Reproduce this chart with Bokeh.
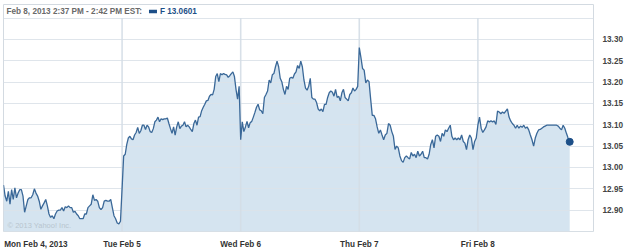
import numpy as np
from bokeh.plotting import figure
from bokeh.models import Range1d, FixedTicker, Label, PrintfTickFormatter
from bokeh.embed import file_html
from bokeh.resources import INLINE

# ---- data (F, 5-day intraday) ----
day_labels = ["Mon Feb 4, 2013", "Tue Feb 5", "Wed Feb 6", "Thu Feb 7", "Fri Feb 8"]

mon = [12.959, 12.933, 12.921, 12.944, 12.914, 12.948, 12.925, 12.952, 12.929, 12.940,
       12.948, 12.948, 12.933, 12.895, 12.910, 12.925, 12.929, 12.929, 12.936, 12.950,
       12.940, 12.933, 12.921, 12.902, 12.910, 12.917, 12.925, 12.910, 12.891, 12.883,
       12.887, 12.880, 12.891, 12.898, 12.900, 12.900, 12.906, 12.898, 12.908, 12.906,
       12.910, 12.906, 12.906, 12.895, 12.897, 12.891, 12.887, 12.880, 12.880, 12.880,
       12.891, 12.891, 12.906, 12.910, 12.914, 12.936, 12.923, 12.925, 12.921, 12.906,
       12.901, 12.906, 12.921, 12.923, 12.921, 12.921, 12.925, 12.906, 12.887, 12.880,
       12.870, 12.868, 12.874]

tue = [12.951, 13.027, 13.031, 13.054, 13.069, 13.073, 13.067, 13.065, 13.076, 13.082,
       13.094, 13.080, 13.086, 13.099, 13.099, 13.089, 13.099, 13.095, 13.084, 13.082,
       13.091, 13.107, 13.111, 13.118, 13.107, 13.114, 13.112, 13.114, 13.114, 13.116,
       13.103, 13.091, 13.080, 13.095, 13.076, 13.095, 13.107, 13.091, 13.097, 13.099,
       13.107, 13.095, 13.099, 13.095, 13.089, 13.084, 13.103, 13.111, 13.099, 13.118,
       13.119, 13.133, 13.141, 13.148, 13.156, 13.157, 13.167, 13.171, 13.170, 13.183,
       13.213, 13.220, 13.201, 13.220, 13.217, 13.220, 13.218, 13.217, 13.211, 13.215,
       13.220, 13.224, 13.213, 13.183, 13.160, 13.190]

wed = [13.065, 13.107, 13.084, 13.095, 13.108, 13.093, 13.105, 13.108, 13.118, 13.129,
       13.141, 13.148, 13.135, 13.133, 13.126, 13.164, 13.171, 13.179, 13.205, 13.198,
       13.217, 13.220, 13.236, 13.249, 13.236, 13.209, 13.201, 13.183, 13.171, 13.190,
       13.183, 13.209, 13.211, 13.209, 13.219, 13.224, 13.239, 13.232, 13.249, 13.236,
       13.205, 13.186, 13.181, 13.190, 13.209, 13.164, 13.160, 13.160, 13.152, 13.137,
       13.133, 13.137, 13.131, 13.148, 13.148, 13.164, 13.175, 13.179, 13.176, 13.167,
       13.183, 13.164, 13.167, 13.156, 13.175, 13.183, 13.164, 13.160, 13.156, 13.171,
       13.175, 13.186, 13.179, 13.183, 13.190]

thu = [13.281, 13.258, 13.232, 13.228, 13.198, 13.205, 13.201, 13.160, 13.122, 13.122,
       13.114, 13.095, 13.080, 13.088, 13.076, 13.065, 13.076, 13.080, 13.103, 13.099,
       13.084, 13.073, 13.042, 13.050, 13.046, 13.027, 13.016, 13.012, 13.023, 13.027,
       13.023, 13.020, 13.035, 13.027, 13.031, 13.023, 13.038, 13.027, 13.031, 13.038,
       13.023, 13.023, 13.020, 13.031, 13.054, 13.065, 13.046, 13.073, 13.076, 13.073,
       13.061, 13.080, 13.073, 13.088, 13.084, 13.092, 13.099, 13.073, 13.065, 13.069,
       13.065, 13.069, 13.065, 13.076, 13.061, 13.057, 13.042, 13.065, 13.076, 13.069,
       13.042, 13.061, 13.069]

fri = [13.099, 13.118, 13.092, 13.082, 13.088, 13.095, 13.109, 13.107, 13.109, 13.107,
       13.109, 13.101, 13.132, 13.130, 13.126, 13.130, 13.127, 13.132, 13.137, 13.118,
       13.109, 13.103, 13.099, 13.092, 13.099, 13.092, 13.097, 13.094, 13.099, 13.092,
       13.095, 13.088, 13.076, 13.065, 13.050, 13.069, 13.080, 13.088, 13.089, 13.092,
       13.095, 13.097, 13.099, 13.099, 13.099, 13.099, 13.099, 13.099, 13.099, 13.097,
       13.092, 13.088, 13.099, 13.092, 13.080, 13.069, 13.0601]

session_minutes = 390          # 9:30 - 16:00
fri_last_minute = 302          # last Friday quote as placed on the chart's time axis
y_ticks = [12.90, 12.95, 13.00, 13.05, 13.10, 13.15, 13.20, 13.25, 13.30]
grid_levels = [12.85] + y_ticks + [13.35]
header_text = "Feb 8, 2013 2:37 PM - 2:42 PM EST:"
legend_text = "F 13.0601"
watermark = "\u00a9 2013 Yahoo! Inc."

# ---- build the time axis (trading-day units) ----
xs, ys = [], []
for d, day in enumerate([mon, tue, wed, thu]):
    n = len(day)
    xs.extend(d + np.arange(n) / n)
    ys.extend(day)
n = len(fri)
xs.extend(4 + np.arange(n) / (n - 1) * fri_last_minute / session_minutes)
ys.extend(fri)
xs = np.array(xs)
ys = np.array(ys)

FONT = "Liberation Sans"
LINE = "#3a6898"
FILL = "#d5e4f0"
GRID = "#dbe2e9"
DARK = "#1d4f88"

y_lo, y_hi = 12.85, 13.3818
p = figure(width=625, height=251, output_backend="svg", toolbar_location=None,
           x_range=Range1d(0, 4.975), y_range=Range1d(y_lo, y_hi),
           y_axis_location="right",
           min_border_left=3, min_border_right=30, min_border_top=4, min_border_bottom=13)
p.background_fill_color = "white"
p.border_fill_color = "white"
p.outline_line_color = "#d3dae1"
p.xgrid.visible = False
p.ygrid.visible = False

# area + grid + line
p.varea(x=xs, y1=y_lo, y2=ys, fill_color=FILL, fill_alpha=1.0)
p.hspan(y=grid_levels, line_color=GRID, line_width=1, line_alpha=0.9)
p.segment(x0=[1, 2, 3, 4], y0=[12.85] * 4, x1=[1, 2, 3, 4], y1=[13.35] * 4,
          line_color="#d4dde6", line_width=1.6, line_alpha=0.9)
p.line(xs, ys, line_color=LINE, line_width=1.3)
p.scatter([xs[-1]], [ys[-1]], size=7, fill_color=DARK, line_color=DARK)

# right axis
ya = p.yaxis[0]
ya.ticker = FixedTicker(ticks=y_ticks)
ya.formatter = PrintfTickFormatter(format="%.2f")
ya.axis_line_color = None
ya.major_tick_line_color = None
ya.minor_tick_line_color = None
ya.major_label_standoff = 3
ya.major_label_text_font = FONT
ya.major_label_text_font_size = "8.2px"
ya.major_label_text_font_style = "bold"
ya.major_label_text_color = "#444444"

# bottom axis (day labels)
xa = p.xaxis[0]
mon_pos = 0.273
xa.ticker = FixedTicker(ticks=[mon_pos, 1, 2, 3, 4])
xa.major_label_overrides = {mon_pos: day_labels[0], 1: day_labels[1], 2: day_labels[2],
                            3: day_labels[3], 4: day_labels[4]}
xa.axis_line_color = None
xa.major_tick_line_color = None
xa.minor_tick_line_color = None
xa.major_label_standoff = 2
xa.major_label_text_font = FONT
xa.major_label_text_font_size = "8.2px"
xa.major_label_text_font_style = "bold"
xa.major_label_text_color = "#333333"

# header: timestamp, legend swatch and legend text
header_y = 13.3655
p.add_layout(Label(x=0.025, y=header_y, text=header_text, text_font=FONT,
                   text_font_size="8.2px", text_font_style="bold", text_color="#6a6a6a",
                   text_baseline="middle", text_align="left"))
p.rect(x=[1.2605], y=[header_y], width=8, height=3.5, width_units="screen",
       height_units="screen", fill_color=DARK, line_color=None)
p.add_layout(Label(x=1.319, y=header_y, text=legend_text, text_font=FONT,
                   text_font_size="8.2px", text_font_style="bold", text_color=DARK,
                   text_baseline="middle", text_align="left"))

# watermark
p.add_layout(Label(x=0.034, y=12.8636, text=watermark, text_font=FONT,
                   text_font_size="7.5px", text_color="#b8c4cf",
                   text_baseline="middle", text_align="left"))

open("out.html", "w").write(file_html(p, INLINE))
